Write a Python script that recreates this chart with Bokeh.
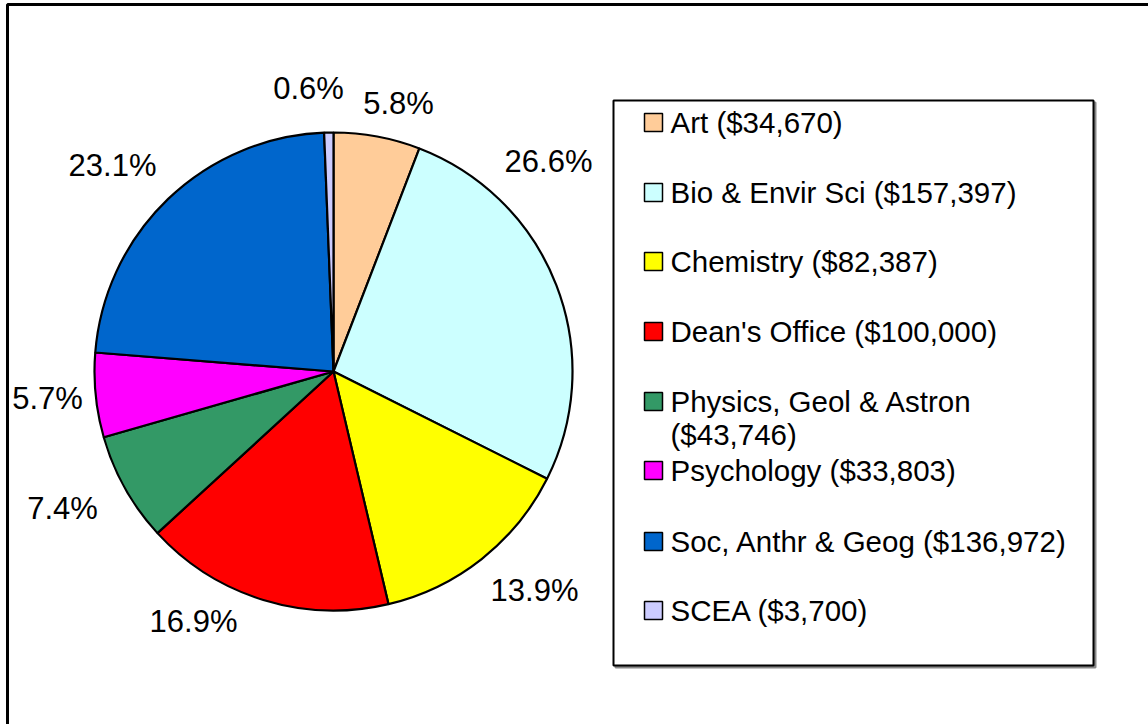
import math
from bokeh.plotting import figure
from bokeh.models import Range1d, ColumnDataSource
from bokeh.core.properties import value
from bokeh.embed import file_html
from bokeh.resources import INLINE

# ---- data ----
categories = ["Art", "Bio & Envir Sci", "Chemistry", "Dean's Office",
              "Physics, Geol & Astron", "Psychology", "Soc, Anthr & Geog", "SCEA"]
amounts = [34670, 157397, 82387, 100000, 43746, 33803, 136972, 3700]
colors = ["#FFCC99", "#CCFFFF", "#FFFF00", "#FF0000",
          "#339966", "#FF00FF", "#0066CC", "#CCCCFF"]

# ---- layout (pixel positions, image coords: y down) ----
W, H = 1148, 724
FONT = value("Liberation Sans")
cx, cy, R = 333, 371, 239
label_pos_x = [398, 548, 534, 193, 62, 47, 112, 308]
label_pos_y = [103, 161, 590, 621, 508, 398, 165, 88]
leg_rows_y = [122, 192, 261, 331, 401, 470, 541, 610]
wrap_second_line_dy = 33

total = float(sum(amounts))
fracs = [a / total for a in amounts]
starts, ends = [], []
c = 0.0
for f in fracs:
    starts.append(math.pi / 2 - 2 * math.pi * c)
    c += f
    ends.append(math.pi / 2 - 2 * math.pi * c)

pct_labels = ["%.1f%%" % (f * 100) for f in fracs]

p = figure(width=W, height=H, x_range=Range1d(0, W), y_range=Range1d(0, H),
           output_backend="svg", toolbar_location=None,
           x_axis_type=None, y_axis_type=None, min_border=0)
p.grid.visible = False
p.outline_line_color = None
p.background_fill_color = "white"
p.border_fill_color = "white"

# outer chart border (extends beyond window on right/bottom)
p.quad(left=[7], right=[W + 20], top=[H - 4], bottom=[-20],
       fill_color=None, line_color="black", line_width=3)

# pie
src = ColumnDataSource(dict(start=starts, end=ends, color=colors))
p.wedge(x=cx, y=H - cy, radius=R, start_angle="start", end_angle="end",
        direction="clock", fill_color="color", line_color="black",
        line_width=2.2, source=src)

# percentage labels
p.text(x=label_pos_x, y=[H - v for v in label_pos_y], text=pct_labels,
       text_align="center", text_baseline="middle",
       text_font=FONT, text_font_size="31px", text_color="black")

# legend box with slight shadow
p.quad(left=[615], right=[1095], top=[H - 102], bottom=[H - 667],
       fill_color="#888888", line_color="#888888", line_width=2)
p.quad(left=[613], right=[1093], top=[H - 100], bottom=[H - 665],
       fill_color="white", line_color="black", line_width=2)

leg_x, leg_y, leg_t = [], [], []
for name, amt, ry in zip(categories, amounts, leg_rows_y):
    txt = "%s ($%s)" % (name, format(amt, ","))
    if len(txt) > 30:
        first, second = "%s" % name, "($%s)" % format(amt, ",")
        leg_x += [670, 670]
        leg_y += [H - ry, H - ry - wrap_second_line_dy]
        leg_t += [first, second]
    else:
        leg_x.append(670)
        leg_y.append(H - ry)
        leg_t.append(txt)

p.rect(x=653, y=[H - v for v in leg_rows_y], width=18, height=18,
       fill_color=colors, line_color="black", line_width=1.5)
p.text(x=leg_x, y=leg_y, text=leg_t, text_align="left", text_baseline="middle",
       text_font=FONT, text_font_size="29.5px", text_color="black")

open("out.html", "w").write(file_html(p, INLINE))
